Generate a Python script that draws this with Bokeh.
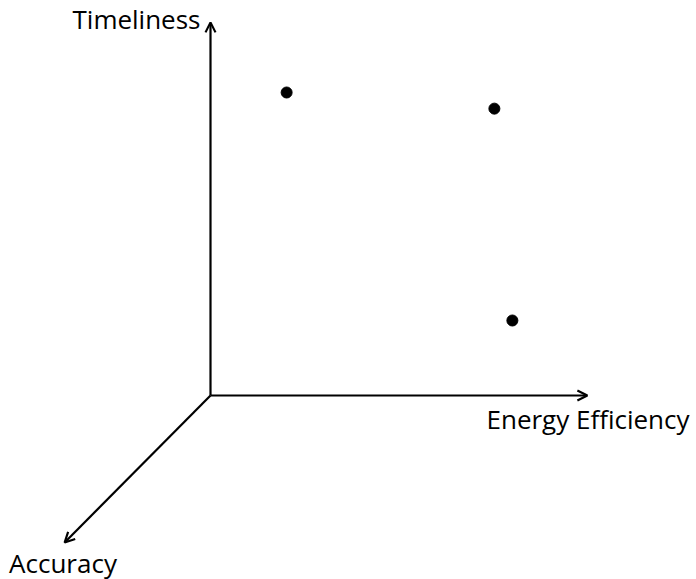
from bokeh.plotting import figure
from bokeh.models import Range1d, Arrow, OpenHead, Label
from bokeh.embed import file_html
from bokeh.resources import INLINE

# Data (in chart units: one unit on each axis)
energy_efficiency = [2.03, 7.57, 8.05]
timeliness = [8.08, 7.65, 2.0]

axis_labels = ["Energy Efficiency", "Timeliness", "Accuracy"]
x_axis_end = 10.05
y_axis_end = 9.95
depth_end = (-3.89, -3.92)

W, H = 696, 579
U = 37.5  # pixels per unit
OX, OY = 210, 395  # origin in pixels
p = figure(width=W, height=H, output_backend="svg", toolbar_location=None,
           x_range=Range1d(-OX / U, (W - OX) / U), y_range=Range1d((OY - H) / U, OY / U),
           x_axis_location=None, y_axis_location=None, min_border=0,
           outline_line_color=None)
p.grid.visible = False
p.background_fill_color = "white"

lw = 2.2
for (xe, ye) in [(x_axis_end, 0), (0, y_axis_end), depth_end]:
    p.add_layout(Arrow(end=OpenHead(size=10, line_width=lw, line_color="black"),
                       x_start=0, y_start=0, x_end=xe, y_end=ye,
                       line_width=lw, line_color="black"))

p.scatter(energy_efficiency, timeliness, size=11, color="black")

font = "Open Sans"
fs = "26px"
p.add_layout(Label(x=(200 - OX) / U, y=(OY - 18) / U, text=axis_labels[1], text_align="right",
                   text_baseline="middle", text_font=font, text_font_size=fs, text_color="black"))
p.add_layout(Label(x=(486 - OX) / U, y=(OY - 418) / U, text=axis_labels[0], text_align="left",
                   text_baseline="middle", text_font=font, text_font_size=fs, text_color="black"))
p.add_layout(Label(x=(62.5 - OX) / U, y=(OY - 562) / U, text=axis_labels[2], text_align="center",
                   text_baseline="middle", text_font=font, text_font_size=fs, text_color="black"))

open("out.html", "w").write(file_html(p, INLINE))
